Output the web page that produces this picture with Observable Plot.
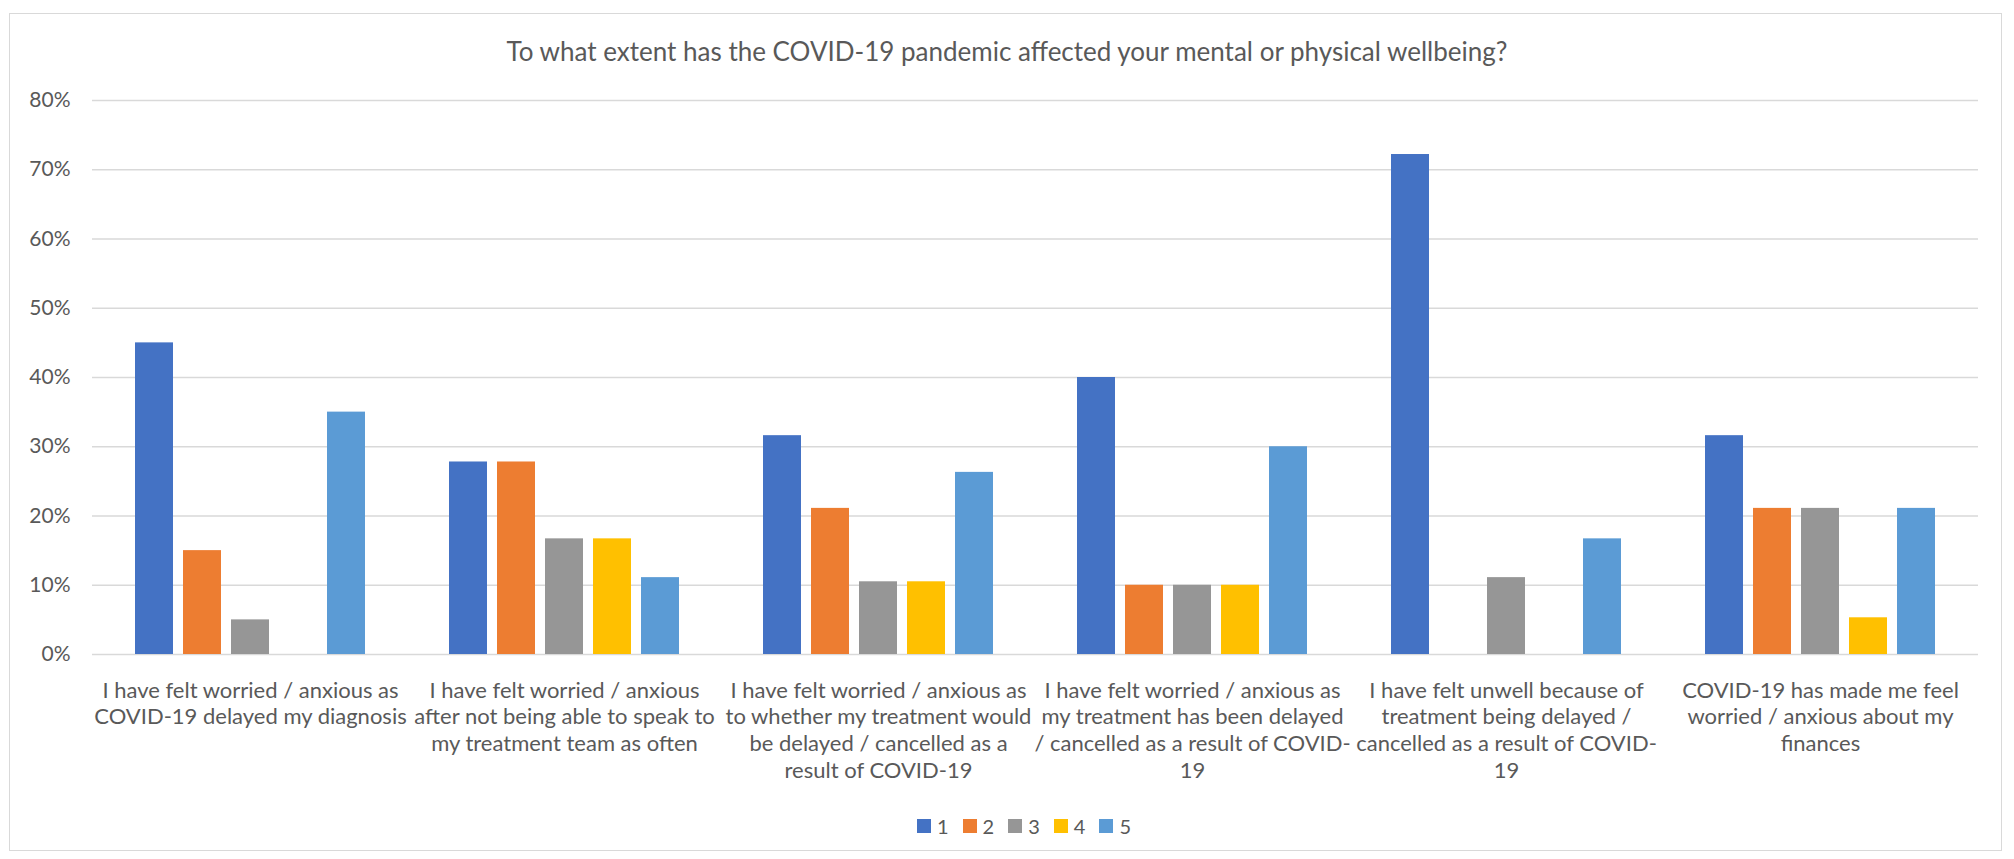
<!DOCTYPE html>
<html>
<head>
<meta charset="utf-8">
<script src="https://cdn.jsdelivr.net/npm/d3@7"></script>
<script src="https://cdn.jsdelivr.net/npm/@observablehq/plot@0.6"></script>
<style>
  html, body { margin: 0; padding: 0; background: #fff; }
  #wrap { position: relative; width: 2014px; height: 859px; overflow: hidden; font-family: Lato, "Open Sans", sans-serif; color: #595959; }
  #frame { position: absolute; left: 9px; top: 13px; width: 1993px; height: 838px; border: 1.5px solid #D9D9D9; box-sizing: border-box; }
  #title { position: absolute; left: 0; width: 2014px; top: 35px; text-align: center; font-size: 26px; line-height: 32px; }
  #grid, #chart { position: absolute; left: 0; top: 80px; }
  #legend { position: absolute; left: 17px; width: 2014px; top: 812px; display: flex; justify-content: center; font-size: 20px; line-height: 28px; }
  .item { display: flex; align-items: center; margin: 0 7px; }
  .sw { width: 14px; height: 14px; margin-right: 6px; }
</style>
</head>
<body>
<div id="wrap">
  <div id="frame"></div>
  <div id="title"></div>
  <div id="grid"></div>
  <div id="chart"></div>
  <div id="legend"></div>
</div>
<script>
const titleText = "To what extent has the COVID-19 pandemic affected your mental or physical wellbeing?";
const categories = [
  "I have felt worried / anxious as\nCOVID-19 delayed my diagnosis",
  "I have felt worried / anxious\nafter not being able to speak to\nmy treatment team as often",
  "I have felt worried / anxious as\nto whether my treatment would\nbe delayed / cancelled as a\nresult of COVID-19",
  "I have felt worried / anxious as\nmy treatment has been delayed\n/ cancelled as a result of COVID-\n19",
  "I have felt unwell because of\ntreatment being delayed /\ncancelled as a result of COVID-\n19",
  "COVID-19 has made me feel\nworried / anxious about my\nfinances"
];
const seriesNames = ["1", "2", "3", "4", "5"];
const seriesColors = ["#4472C4", "#ED7D31", "#969696", "#FFC000", "#5B9BD5"];
const s1 = [0.45, 0.278, 0.316, 0.40, 0.722, 0.316];
const s2 = [0.15, 0.278, 0.211, 0.10, 0.0, 0.211];
const s3 = [0.05, 0.167, 0.105, 0.10, 0.111, 0.211];
const s4 = [0.0, 0.167, 0.105, 0.10, 0.0, 0.053];
const s5 = [0.35, 0.111, 0.263, 0.30, 0.167, 0.211];
const yTicks = [0, 0.1, 0.2, 0.3, 0.4, 0.5, 0.6, 0.7, 0.8];

const seriesValues = [s1, s2, s3, s4, s5];
const data = [];
categories.forEach((c, i) => {
  seriesNames.forEach((s, j) => {
    data.push({cat: c, series: s, value: seriesValues[j][i]});
  });
});

document.getElementById("title").textContent = titleText;
const pct = d3.format(".0%");

const common = {
  width: 2014,
  height: 720,
  marginTop: 20,
  marginLeft: 92,
  marginRight: 36,
  marginBottom: 146,
  style: {fontFamily: "Lato, 'Open Sans', sans-serif", color: "#595959", background: "transparent"}
};

// Background layer: gridlines and y-axis labels spanning the whole frame
const gridPlot = Plot.plot({
  ...common,
  y: {domain: [0, 0.8], label: null, axis: null},
  marks: [
    Plot.ruleY(yTicks, {y: d => d, stroke: "#D9D9D9", strokeWidth: 1.5}),
    Plot.text(yTicks, {y: d => d, text: d => pct(d), frameAnchor: "left", textAnchor: "end", dx: -22, fontSize: 21, fill: "#595959"})
  ]
});
document.getElementById("grid").appendChild(gridPlot);

// Foreground layer: clustered bars and category labels
const chart = Plot.plot({
  ...common,
  fx: {domain: categories, paddingInner: 0.255, paddingOuter: 0.1275, label: null},
  x: {domain: seriesNames, paddingInner: 0.21, paddingOuter: 0, axis: null},
  y: {domain: [0, 0.8], label: null, axis: null},
  color: {domain: seriesNames, range: seriesColors},
  marks: [
    Plot.barY(data, {fx: "cat", x: "series", y: "value", fill: "series"}),
    Plot.axisFx({anchor: "bottom", tickSize: 0, tickPadding: 24, lineAnchor: "top", fontSize: 22, lineHeight: 1.22, fill: "#595959", label: null, tickFormat: d => d})
  ]
});
document.getElementById("chart").appendChild(chart);

const legend = document.getElementById("legend");
seriesNames.forEach((s, i) => {
  const it = document.createElement("div");
  it.className = "item";
  const sw = document.createElement("div");
  sw.className = "sw";
  sw.style.background = seriesColors[i];
  const lb = document.createElement("span");
  lb.textContent = s;
  it.appendChild(sw);
  it.appendChild(lb);
  legend.appendChild(it);
});
</script>
</body>
</html>
